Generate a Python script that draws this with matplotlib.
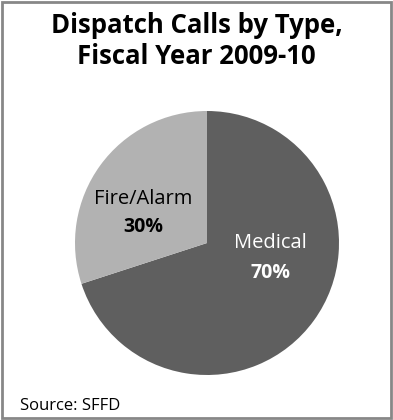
import matplotlib
matplotlib.use('Agg')
import matplotlib.pyplot as plt
from matplotlib.patches import Rectangle

# call types and their share of dispatch calls
labels = ['Medical', 'Fire/Alarm']
shares = [70, 30]
colors = ['#5f5f5f', '#b2b2b2']
text_colors = ['white', 'black']

plt.rcParams['font.family'] = ['Open Sans', 'DejaVu Sans']

fig = plt.figure(figsize=(3.93, 4.20), dpi=100)

# gray frame round the whole chart
fig.patches.append(Rectangle((0.006, 0.005), 0.988, 0.99, transform=fig.transFigure,
                             fill=False, edgecolor='#878787', linewidth=2))

fig.text(0.5, 0.972, 'Dispatch Calls by Type,\nFiscal Year 2009-10', ha='center', va='top',
         fontsize=18.5, fontweight='bold', linespacing=1.18)

ax = fig.add_axes([(207 - 132) / 393, 1 - (243 + 132) / 420, 264 / 393, 264 / 420])
wedges, _ = ax.pie(shares, colors=colors, startangle=90, counterclock=False,
                   radius=1.0, wedgeprops=dict(linewidth=0))
ax.set_xlim(-1, 1)
ax.set_ylim(-1, 1)
ax.set_aspect('equal')

# label positions in axes units (name line, percent line)
label_pos = [(0.48, 0.0, -0.23), (-0.48, 0.33, 0.12)]
for lab, val, pos, tc in zip(labels, shares, label_pos, text_colors):
    ax.text(pos[0], pos[1], lab, ha='center', va='center', fontsize=14.5, color=tc)
    ax.text(pos[0], pos[2], '%d%%' % val, ha='center', va='center', fontsize=14,
            fontweight='bold', color=tc)

fig.text(20 / 393, 1 - 406 / 420, 'Source: SFFD', ha='left', va='center', fontsize=12)

fig.savefig('out.png', dpi=100)
